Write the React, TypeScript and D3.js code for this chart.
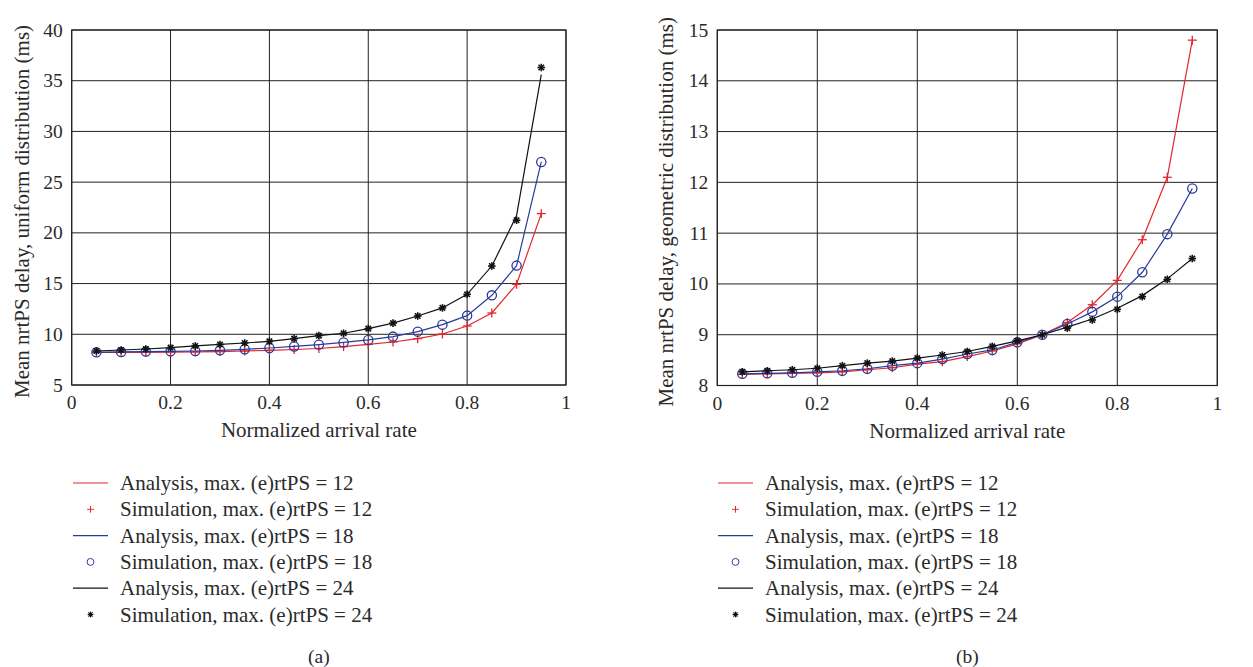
import React from "react";
import * as d3 from "d3";

const rates = [0.05, 0.1, 0.15, 0.2, 0.25, 0.3, 0.35, 0.4, 0.45, 0.5, 0.55, 0.6, 0.65, 0.7, 0.75, 0.8, 0.85, 0.9, 0.95];

// (a) uniform distribution
const uniAna12 = [8.22, 8.22, 8.22, 8.25, 8.26, 8.3, 8.35, 8.42, 8.5, 8.6, 8.78, 9.0, 9.24, 9.57, 10.03, 10.82, 12.1, 14.93, 21.9];
const uniSim12 = [8.22, 8.22, 8.22, 8.25, 8.26, 8.3, 8.35, 8.42, 8.5, 8.6, 8.78, 9.0, 9.24, 9.57, 10.03, 10.82, 12.1, 14.93, 21.9];
const uniAna18 = [8.22, 8.26, 8.3, 8.32, 8.35, 8.42, 8.52, 8.65, 8.8, 8.98, 9.2, 9.44, 9.77, 10.26, 10.95, 11.84, 13.84, 16.77, 26.99];
const uniSim18 = [8.22, 8.26, 8.3, 8.32, 8.35, 8.42, 8.52, 8.65, 8.8, 8.98, 9.2, 9.44, 9.77, 10.26, 10.95, 11.84, 13.84, 16.77, 26.99];
const uniAna24 = [8.35, 8.45, 8.55, 8.68, 8.85, 9.0, 9.14, 9.3, 9.57, 9.87, 10.1, 10.56, 11.1, 11.8, 12.6, 13.94, 16.73, 21.7, 35.6];
const uniSim24 = [8.35, 8.45, 8.55, 8.68, 8.85, 9.0, 9.14, 9.3, 9.57, 9.87, 10.1, 10.56, 11.1, 11.8, 12.6, 13.94, 16.73, 21.24, 36.3];

// (b) geometric distribution
const geoAna12 = [8.22, 8.23, 8.24, 8.25, 8.27, 8.31, 8.35, 8.42, 8.47, 8.57, 8.68, 8.82, 9.0, 9.24, 9.59, 10.07, 10.87, 12.1, 14.8];
const geoSim12 = [8.22, 8.23, 8.24, 8.25, 8.27, 8.31, 8.35, 8.42, 8.47, 8.57, 8.68, 8.82, 9.0, 9.24, 9.59, 10.07, 10.87, 12.1, 14.8];
const geoAna18 = [8.23, 8.24, 8.25, 8.27, 8.29, 8.33, 8.39, 8.44, 8.52, 8.62, 8.7, 8.85, 9.0, 9.21, 9.45, 9.75, 10.23, 10.98, 11.88];
const geoSim18 = [8.23, 8.24, 8.25, 8.27, 8.29, 8.33, 8.39, 8.44, 8.52, 8.62, 8.7, 8.85, 9.0, 9.21, 9.45, 9.75, 10.23, 10.98, 11.88];
const geoAna24 = [8.27, 8.29, 8.31, 8.34, 8.39, 8.44, 8.48, 8.54, 8.6, 8.67, 8.77, 8.88, 9.0, 9.15, 9.31, 9.52, 9.77, 10.1, 10.5];
const geoSim24 = [8.27, 8.29, 8.31, 8.34, 8.39, 8.44, 8.48, 8.54, 8.6, 8.67, 8.77, 8.88, 9.0, 9.13, 9.29, 9.5, 9.75, 10.09, 10.5];

const xTicks = [0, 0.2, 0.4, 0.6, 0.8, 1];
const uniYTicks = [5, 10, 15, 20, 25, 30, 35, 40];
const geoYTicks = [8, 9, 10, 11, 12, 13, 14, 15];

const legendLabels = [
  "Analysis, max. (e)rtPS = 12",
  "Simulation, max. (e)rtPS = 12",
  "Analysis, max. (e)rtPS = 18",
  "Simulation, max. (e)rtPS = 18",
  "Analysis, max. (e)rtPS = 24",
  "Simulation, max. (e)rtPS = 24",
];

const RED = "#e3262b";
const BLUE = "#2b3b9a";
const BLACK = "#111111";
const FONT = "'Liberation Serif', 'DejaVu Serif', serif";
const TEXT = "#2a2a2a";

type Marker = "plus" | "circle" | "star";

function MarkerShape({ type, x, y, color }: { type: Marker; x: number; y: number; color: string }) {
  if (type === "plus") {
    const s = 4.5;
    return (
      <g stroke={color} strokeWidth={1.3}>
        <line x1={x - s} x2={x + s} y1={y} y2={y} />
        <line x1={x} x2={x} y1={y - s} y2={y + s} />
      </g>
    );
  }
  if (type === "circle") {
    return <circle cx={x} cy={y} r={4.6} fill="none" stroke={color} strokeWidth={1.3} />;
  }
  const s = 3.8;
  const d = s * 0.72;
  return (
    <g stroke={color} strokeWidth={1.6}>
      <line x1={x - s} x2={x + s} y1={y} y2={y} />
      <line x1={x} x2={x} y1={y - s} y2={y + s} />
      <line x1={x - d} x2={x + d} y1={y - d} y2={y + d} />
      <line x1={x - d} x2={x + d} y1={y + d} y2={y - d} />
    </g>
  );
}

type Series = { ana: number[]; sim: number[]; color: string; marker: Marker };

function Panel({
  left, right, top, bottom, yDomain, yTicks, series, yLabel, yLabelX, caption, legendX,
}: {
  left: number; right: number; top: number; bottom: number; yDomain: [number, number]; yTicks: number[];
  series: Series[]; yLabel: string; yLabelX: number; caption: string; legendX: number;
}) {
  const x = d3.scaleLinear().domain([0, 1]).range([left, right]);
  const y = d3.scaleLinear().domain(yDomain).range([bottom, top]);
  const line = d3.line<number>().x((_, i) => x(rates[i])).y((v) => y(v));
  const cx = (left + right) / 2;
  const legendTop = 483;
  const legendStep = 26.3;
  return (
    <g fontFamily={FONT} fill={TEXT}>
      {xTicks.map((t) => (
        <line key={"gx" + t} x1={x(t)} x2={x(t)} y1={top} y2={bottom} stroke="#222" strokeWidth={1} />
      ))}
      {yTicks.map((t) => (
        <line key={"gy" + t} x1={left} x2={right} y1={y(t)} y2={y(t)} stroke="#222" strokeWidth={1} />
      ))}
      <rect x={left} y={top} width={right - left} height={bottom - top} fill="none" stroke="#222" strokeWidth={1.2} />
      {series.map((s, k) => (
        <g key={"s" + k}>
          <path d={line(s.ana) || ""} fill="none" stroke={s.color} strokeWidth={1.2} />
          {s.sim.map((v, i) => (
            <MarkerShape key={i} type={s.marker} x={x(rates[i])} y={y(v)} color={s.color} />
          ))}
        </g>
      ))}
      {xTicks.map((t) => (
        <text key={"tx" + t} x={x(t)} y={bottom + 24} textAnchor="middle" fontSize={19.5}>
          {d3.format("")(t)}
        </text>
      ))}
      {yTicks.map((t) => (
        <text key={"ty" + t} x={left - 9} y={y(t) + 6.5} textAnchor="end" fontSize={19.5}>
          {t}
        </text>
      ))}
      <text x={cx} y={bottom + 52} textAnchor="middle" fontSize={21}>Normalized arrival rate</text>
      <text
        transform={`translate(${yLabelX},${(top + bottom) / 2 + 4}) rotate(-90)`}
        textAnchor="middle"
        fontSize={21}
      >
        {yLabel}
      </text>
      {series.map((s, k) => {
        const ya = legendTop + legendStep * (2 * k);
        const ys = legendTop + legendStep * (2 * k + 1);
        return (
          <g key={"lg" + k}>
            <line x1={legendX} x2={legendX + 35} y1={ya} y2={ya} stroke={s.color} strokeWidth={1.2} />
            <text x={legendX + 47} y={ya + 7} fontSize={21}>{legendLabels[2 * k]}</text>
            <g transform={`translate(${legendX + 17.5},${ys}) scale(0.75) translate(${-(legendX + 17.5)},${-ys})`}>
              <MarkerShape type={s.marker} x={legendX + 17.5} y={ys} color={s.color} />
            </g>
            <text x={legendX + 47} y={ys + 7} fontSize={21}>{legendLabels[2 * k + 1]}</text>
          </g>
        );
      })}
      <text x={cx} y={663} textAnchor="middle" fontSize={19.5}>{caption}</text>
    </g>
  );
}

export default function App() {
  const uniSeries: Series[] = [
    { ana: uniAna12, sim: uniSim12, color: RED, marker: "plus" },
    { ana: uniAna18, sim: uniSim18, color: BLUE, marker: "circle" },
    { ana: uniAna24, sim: uniSim24, color: BLACK, marker: "star" },
  ];
  const geoSeries: Series[] = [
    { ana: geoAna12, sim: geoSim12, color: RED, marker: "plus" },
    { ana: geoAna18, sim: geoSim18, color: BLUE, marker: "circle" },
    { ana: geoAna24, sim: geoSim24, color: BLACK, marker: "star" },
  ];
  return (
    <svg
      width={1253}
      height={667}
      style={{ position: "absolute", left: 0, top: 0, background: "#fff" }}
    >
      <Panel
        left={71.7} right={566} top={30} bottom={385}
        yDomain={[5, 40]} yTicks={uniYTicks} series={uniSeries}
        yLabel="Mean nrtPS delay, uniform distribution (ms)" yLabelX={29}
        caption="(a)" legendX={73}
      />
      <Panel
        left={717.3} right={1217.3} top={30} bottom={385.5}
        yDomain={[8, 15]} yTicks={geoYTicks} series={geoSeries}
        yLabel="Mean nrtPS delay, geometric distribution (ms)" yLabelX={673}
        caption="(b)" legendX={718}
      />
    </svg>
  );
}
